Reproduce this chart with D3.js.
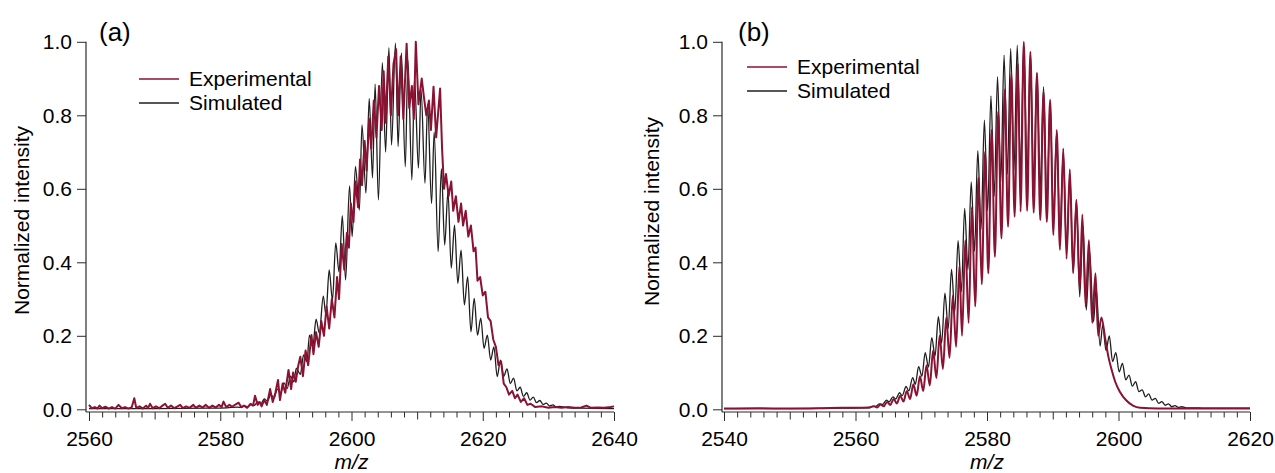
<!DOCTYPE html>
<html>
<head>
<meta charset="utf-8">
<script src="https://cdn.jsdelivr.net/npm/d3@7"></script>
<style>
  body { margin: 0; background: #fff; }
  svg { display: block; }
  text { font-family: "Liberation Sans", Arial, Helvetica, sans-serif; fill: #000; }
</style>
</head>
<body>
<svg id="chart" width="1275" height="473"></svg>
<script>
// ---- Data: [m/z, normalized intensity] ----
const seriesNames = ["Experimental", "Simulated"];
const yTicks = [0, 0.2, 0.4, 0.6, 0.8, 1.0];
const xTicksA = [2560, 2580, 2600, 2620, 2640];
const xTicksB = [2540, 2560, 2580, 2600, 2620];

// (a) simulated isotope envelope (alternating troughs / peaks)
const simA = [
  [2560,0.002],[2570,0.002],[2578,0.003],[2581,0.004],[2582.7,0.006],[2583.2,0.005],[2583.7,0.009],[2584.2,0.007],
  [2584.7,0.013],[2585.2,0.011],[2585.7,0.02],[2586.2,0.016],[2586.7,0.028],[2587.2,0.022],[2587.7,0.04],[2588.2,0.031],
  [2588.7,0.055],[2589.2,0.043],[2589.7,0.072],[2590.2,0.057],[2590.7,0.09],[2591.2,0.075],[2591.6,0.112],[2592.2,0.095],
  [2592.7,0.148],[2593.2,0.13],[2593.6,0.202],[2594.1,0.17],[2594.6,0.245],[2595.1,0.207],[2595.7,0.308],[2596.1,0.257],
  [2596.6,0.379],[2597.1,0.297],[2597.6,0.453],[2598.1,0.374],[2598.6,0.527],[2599.1,0.352],[2599.7,0.608],[2600.1,0.47],
  [2600.6,0.661],[2601.2,0.542],[2601.6,0.774],[2602.2,0.588],[2602.7,0.846],[2603.2,0.63],[2603.6,0.885],[2604.1,0.57],
  [2604.7,0.943],[2605.2,0.70],[2605.7,0.984],[2606.1,0.719],[2606.7,0.996],[2607.1,0.715],[2607.6,0.97],[2608.2,0.66],
  [2608.6,0.95],[2609.2,0.624],[2609.6,0.90],[2610.2,0.656],[2610.6,0.87],[2611.2,0.615],[2611.6,0.83],[2612.2,0.56],
  [2612.6,0.755],[2613.2,0.429],[2613.7,0.655],[2614.2,0.447],[2614.7,0.592],[2615.2,0.384],[2615.7,0.501],[2616.2,0.343],
  [2616.7,0.433],[2617.2,0.284],[2617.7,0.361],[2618.2,0.211],[2618.7,0.302],[2619.2,0.202],[2619.7,0.248],[2620.2,0.166],
  [2620.7,0.202],[2621.2,0.134],[2621.7,0.17],[2622.2,0.089],[2622.7,0.134],[2623.2,0.09],[2623.7,0.11],[2624.2,0.07],
  [2624.7,0.085],[2625.2,0.05],[2625.7,0.06],[2626.2,0.035],[2626.7,0.045],[2627.2,0.025],[2627.7,0.033],[2628.2,0.018],
  [2628.7,0.024],[2629.2,0.013],[2629.7,0.017],[2630.2,0.009],[2630.7,0.012],[2631.2,0.006],[2631.7,0.008],[2633,0.004],
  [2635,0.003],[2640,0.002]
];

// (a) measured spectrum
const expA = [
  [2560.0,0.012],[2560.4,0.003],[2560.9,0.006],[2561.3,0.002],[2561.6,0.01],[2562.0,0.003],[2562.5,0.007],[2563.0,0.002],
  [2563.5,0.006],[2564.0,0.002],[2564.5,0.012],[2565.0,0.003],[2565.5,0.006],[2566.0,0.002],[2566.5,0.005],[2566.9,0.03],
  [2567.2,0.004],[2567.7,0.008],[2568.2,0.002],[2568.7,0.01],[2569.0,0.003],[2569.3,0.015],[2569.7,0.003],[2570.2,0.008],
  [2570.7,0.003],[2571.2,0.01],[2571.6,0.015],[2572.0,0.004],[2572.5,0.01],[2573.0,0.003],[2573.5,0.008],[2573.9,0.012],
  [2574.3,0.003],[2574.8,0.008],[2575.3,0.004],[2575.9,0.012],[2576.3,0.004],[2576.8,0.01],[2577.3,0.005],[2577.8,0.012],
  [2578.3,0.004],[2578.8,0.01],[2579.3,0.005],[2579.8,0.012],[2580.2,0.006],[2580.5,0.021],[2580.9,0.006],[2581.4,0.012],
  [2581.8,0.007],[2582.3,0.013],[2582.8,0.018],[2583.2,0.006],[2583.6,0.01],[2584.1,0.004],[2584.6,0.015],[2585.0,0.01],
  [2585.3,0.037],[2585.7,0.012],[2586.0,0.02],[2586.3,0.008],[2586.7,0.025],[2587.1,0.012],[2587.6,0.055],[2588.0,0.02],
  [2588.4,0.045],[2588.8,0.08],[2589.1,0.025],[2589.5,0.07],[2589.9,0.045],[2590.4,0.107],[2590.8,0.055],[2591.1,0.1],
  [2591.5,0.075],[2591.9,0.12],[2592.2,0.143],[2592.6,0.09],[2593.0,0.16],[2593.4,0.12],[2593.9,0.202],[2594.2,0.15],
  [2594.6,0.21],[2595.0,0.17],[2595.4,0.24],[2595.8,0.2],[2596.2,0.28],[2596.6,0.22],[2597.0,0.3],[2597.4,0.25],
  [2597.8,0.36],[2598.1,0.3],[2598.5,0.45],[2598.9,0.38],[2599.3,0.48],[2599.6,0.44],[2599.9,0.56],[2600.3,0.51],
  [2600.6,0.62],[2601.0,0.55],[2601.3,0.68],[2601.6,0.61],[2602.0,0.73],[2602.3,0.65],[2602.7,0.79],[2603.0,0.71],
  [2603.4,0.84],[2603.8,0.74],[2604.2,0.88],[2604.6,0.76],[2604.9,0.92],[2605.2,0.78],[2605.6,0.96],[2606.0,0.8],
  [2606.4,0.94],[2606.8,0.98],[2607.1,0.8],[2607.5,0.96],[2607.9,0.79],[2608.4,0.995],[2608.8,0.82],[2609.2,0.88],
  [2609.5,0.79],[2609.8,1.0],[2610.2,0.83],[2610.7,0.9],[2611.0,0.855],[2611.4,0.8],[2611.8,0.84],[2612.1,0.76],
  [2612.5,0.878],[2612.9,0.74],[2613.5,0.873],[2613.8,0.71],[2614.1,0.6],[2614.4,0.64],[2614.8,0.58],[2615.2,0.62],
  [2615.5,0.54],[2615.9,0.58],[2616.3,0.51],[2616.7,0.56],[2617.0,0.5],[2617.4,0.54],[2617.8,0.47],[2618.2,0.5],
  [2618.6,0.43],[2618.9,0.44],[2619.2,0.35],[2619.6,0.36],[2620.0,0.31],[2620.4,0.32],[2620.8,0.25],[2621.2,0.24],
  [2621.6,0.19],[2622.0,0.17],[2622.4,0.12],[2622.8,0.13],[2623.2,0.07],[2623.6,0.06],[2624.0,0.04],[2624.5,0.05],
  [2624.9,0.03],[2625.3,0.04],[2625.8,0.02],[2626.3,0.03],[2626.8,0.012],[2627.3,0.015],[2628,0.006],[2629,0.008],
  [2630,0.004],[2631,0.006],[2632,0.004],[2633,0.006],[2634,0.004],[2635,0.005],[2635.8,0.01],[2636.5,0.004],
  [2637.5,0.005],[2638.5,0.004],[2639.5,0.006],[2640,0.008]
];

// (b) simulated isotope envelope
const simB = [
  [2540,0.002],[2550,0.002],[2558,0.003],[2561,0.004],[2562.1,0.004],[2562.6,0.008],[2563.1,0.008],[2563.6,0.015],
  [2564.1,0.013],[2564.7,0.025],[2565.1,0.02],[2565.7,0.034],[2566.1,0.028],[2566.7,0.045],[2567.1,0.037],[2567.7,0.062],
  [2568.1,0.05],[2568.7,0.086],[2569.1,0.068],[2569.6,0.116],[2570.1,0.09],[2570.6,0.154],[2571.1,0.115],[2571.6,0.195],
  [2572.1,0.145],[2572.6,0.252],[2573.1,0.18],[2573.6,0.316],[2574.1,0.22],[2574.6,0.381],[2575.1,0.265],[2575.6,0.459],
  [2576.1,0.32],[2576.6,0.547],[2577.1,0.38],[2577.6,0.619],[2578.1,0.43],[2578.6,0.704],[2579.1,0.49],[2579.6,0.787],
  [2580.1,0.54],[2580.6,0.853],[2581.1,0.58],[2581.6,0.905],[2582.1,0.62],[2582.6,0.964],[2583.1,0.64],[2583.6,0.982],
  [2584.1,0.65],[2584.6,0.991],[2585.1,0.65],[2585.6,0.985],[2586.1,0.64],[2586.6,0.965],[2587.1,0.62],[2587.6,0.914],
  [2588.1,0.6],[2588.6,0.878],[2589.1,0.56],[2589.6,0.835],[2590.1,0.52],[2590.6,0.755],[2591.1,0.47],[2591.6,0.70],
  [2592.1,0.43],[2592.6,0.64],[2593.1,0.374],[2593.6,0.57],[2594.1,0.306],[2594.6,0.50],[2595.1,0.27],[2595.6,0.43],
  [2596.2,0.238],[2596.6,0.33],[2597.2,0.172],[2597.6,0.23],[2598.1,0.16],[2598.6,0.2],[2599.1,0.13],[2599.6,0.154],
  [2600.1,0.102],[2600.6,0.125],[2601.1,0.08],[2601.6,0.093],[2602.1,0.063],[2602.6,0.075],[2603.1,0.048],[2603.6,0.053],
  [2604.1,0.034],[2604.6,0.042],[2605.1,0.025],[2605.6,0.03],[2606.1,0.016],[2606.6,0.021],[2607.1,0.011],[2607.6,0.015],
  [2608.1,0.007],[2608.6,0.01],[2609.1,0.005],[2609.6,0.007],[2610.5,0.004],[2611.5,0.004],[2613,0.003],[2620,0.003]
];

// (b) measured spectrum
const expB = [
  [2540,0.002],[2545,0.003],[2550,0.002],[2555,0.003],[2558,0.004],[2560,0.004],[2562,0.005],[2562.8,0.008],
  [2563.3,0.005],[2563.8,0.013],[2564.3,0.008],[2564.8,0.02],[2565.3,0.012],[2565.8,0.028],[2566.3,0.016],[2566.8,0.037],
  [2567.3,0.021],[2567.8,0.05],[2568.3,0.028],[2568.8,0.068],[2569.3,0.037],[2569.8,0.09],[2570.3,0.05],[2570.8,0.12],
  [2571.3,0.065],[2571.8,0.16],[2572.3,0.085],[2572.8,0.2],[2573.3,0.11],[2573.8,0.25],[2574.3,0.14],[2574.8,0.31],
  [2575.3,0.17],[2575.8,0.39],[2576.2,0.2],[2576.7,0.46],[2577.2,0.235],[2577.7,0.55],[2578.2,0.28],[2578.7,0.63],
  [2579.2,0.34],[2579.7,0.70],[2580.2,0.37],[2580.7,0.76],[2581.2,0.415],[2581.7,0.81],[2582.2,0.465],[2582.7,0.87],
  [2583.2,0.497],[2583.7,0.914],[2584.2,0.524],[2584.7,0.94],[2585.1,0.538],[2585.6,1.0],[2586.1,0.54],[2586.6,0.973],
  [2587.1,0.535],[2587.6,0.916],[2588.1,0.515],[2588.6,0.864],[2589.1,0.51],[2589.6,0.842],[2590.1,0.474],[2590.6,0.76],
  [2591.1,0.434],[2591.6,0.71],[2592.1,0.41],[2592.6,0.653],[2593.1,0.37],[2593.6,0.57],[2594.1,0.325],[2594.5,0.53],
  [2595.0,0.28],[2595.5,0.46],[2596.0,0.235],[2596.5,0.37],[2596.9,0.2],[2597.4,0.25],[2598.0,0.19],[2598.5,0.14],
  [2599.0,0.105],[2599.5,0.075],[2600.2,0.048],[2601.2,0.024],[2602.2,0.01],[2603.3,0.004],[2606,0.002],[2610,0.002],
  [2620,0.002]
];

// ---- Layout and style ----
const COLOR_EXP = "#8a1232";
const COLOR_SIM = "#1e1e1e";
const AXIS_COLOR = "#2a2a2a";
const FONT = 21;
const Y_TOP = 41.8, Y_BOTTOM = 409.3, AXIS_Y = 412;

const panels = [
  { tag: "(a)", sim: simA, exp: expA, expCurve: d3.curveLinear, domain: [2560, 2640], ticks: xTicksA,
    range: [89, 614], axisX: 86, titleX: 28.5, titleY: 220.5, legendX: 139, legendY: 79, tagX: 99 },
  { tag: "(b)", sim: simB, exp: expB, expCurve: d3.curveMonotoneX, domain: [2540, 2620], ticks: xTicksB,
    range: [724, 1250], axisX: 722, titleX: 659, titleY: 211.5, legendX: 747, legendY: 67, tagX: 738 }
];

const svg = d3.select("#chart");
svg.append("rect").attr("width", 1275).attr("height", 473).attr("fill", "#fff");

const y = d3.scaleLinear().domain([0, 1]).range([Y_BOTTOM, Y_TOP]);

function styleAxis(g) {
  g.attr("color", AXIS_COLOR).attr("font-size", FONT)
   .attr("font-family", '"Liberation Sans", Arial, Helvetica, sans-serif');
  g.select(".domain").remove();
  g.selectAll("text").attr("fill", "#000");
  g.selectAll("line").attr("stroke-width", 1);
}

panels.forEach(p => {
  const x = d3.scaleLinear().domain(p.domain).range(p.range);
  const g = svg.append("g");

  // y axis
  const yAxis = d3.axisLeft(y).tickValues(yTicks).tickFormat(d3.format(".1f")).tickSize(9).tickPadding(5);
  g.append("g").attr("transform", `translate(${p.axisX},0)`).call(yAxis).call(styleAxis);
  g.append("line").attr("x1", p.axisX).attr("x2", p.axisX).attr("y1", Y_TOP).attr("y2", AXIS_Y)
    .attr("stroke", AXIS_COLOR).attr("stroke-width", 1.2);

  // x axis: minor (2), medium (10) and labelled major (20) ticks
  const minor = d3.range(p.domain[0], p.domain[1] + 1, 2).filter(v => v % 10 !== 0);
  const mid = d3.range(p.domain[0], p.domain[1] + 1, 10).filter(v => v % 20 !== 0);
  const gx = g.append("g").attr("transform", `translate(0,${AXIS_Y})`);
  gx.append("g").call(d3.axisBottom(x).tickValues(minor).tickSize(5.5).tickFormat("")).call(styleAxis);
  gx.append("g").call(d3.axisBottom(x).tickValues(mid).tickSize(7.5).tickFormat("")).call(styleAxis);
  gx.append("g").call(d3.axisBottom(x).tickValues(p.ticks).tickSize(9).tickPadding(10).tickFormat(d3.format("d"))).call(styleAxis);
  g.append("line").attr("x1", p.axisX).attr("x2", p.range[1]).attr("y1", AXIS_Y).attr("y2", AXIS_Y)
    .attr("stroke", AXIS_COLOR).attr("stroke-width", 1.2);

  // axis titles
  g.append("text").attr("transform", `translate(${p.titleX},${p.titleY}) rotate(-90)`)
    .attr("text-anchor", "middle").attr("font-size", FONT).text("Normalized intensity");
  g.append("text").attr("x", (p.range[0] + p.range[1]) / 2).attr("y", 469)
    .attr("text-anchor", "middle").attr("font-size", FONT).attr("font-style", "italic").text("m/z");

  // panel tag
  g.append("text").attr("x", p.tagX).attr("y", 41).attr("font-size", 26).text(p.tag);

  // spectra: simulated below, measured on top
  const lineSim = d3.line().x(d => x(d[0])).y(d => y(d[1])).curve(d3.curveMonotoneX);
  const lineExp = d3.line().x(d => x(d[0])).y(d => y(d[1])).curve(p.expCurve);
  g.append("path").datum(p.sim).attr("d", lineSim).attr("fill", "none")
    .attr("stroke", COLOR_SIM).attr("stroke-width", 1.3).attr("stroke-linejoin", "round");
  g.append("path").datum(p.exp).attr("d", lineExp).attr("fill", "none")
    .attr("stroke", COLOR_EXP).attr("stroke-width", 2).attr("stroke-linejoin", "round");

  // legend
  const colors = [COLOR_EXP, COLOR_SIM];
  seriesNames.forEach((name, i) => {
    const ly = p.legendY + i * 24;
    g.append("line").attr("x1", p.legendX).attr("x2", p.legendX + 40).attr("y1", ly).attr("y2", ly)
      .attr("stroke", colors[i]).attr("stroke-width", 1.6);
    g.append("text").attr("x", p.legendX + 50).attr("y", ly + 7).attr("font-size", FONT).text(name);
  });
});
</script>
</body>
</html>
